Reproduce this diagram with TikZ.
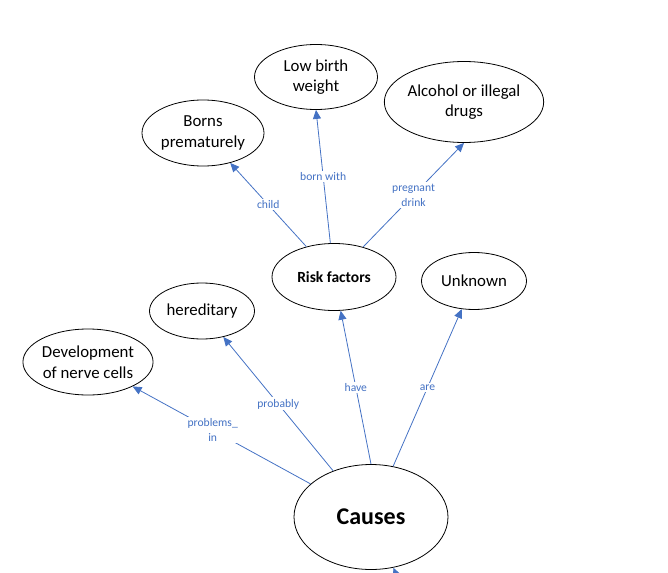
\documentclass[tikz,border=0pt]{standalone}
\usepackage{fontspec}
\setmainfont{Carlito}
\usetikzlibrary{shapes.geometric,arrows.meta}
\definecolor{linkblue}{HTML}{4472C4}

\begin{document}
\begin{tikzpicture}[x=1pt, y=-1pt,
    concept/.style={ellipse, draw=black, line width=0.8pt, inner sep=0pt, align=center,
                    font=\fontsize{16.8}{20.5}\selectfont},
    link/.style={draw=linkblue, line width=0.8pt, -{Triangle[length=9pt, width=8pt]}},
    linklabel/.style={fill=white, inner sep=1.5pt, align=center, text=linkblue,
                      font=\fontsize{11.6}{15}\selectfont}]
    \useasboundingbox (0,0) rectangle (668,572);
    \clip (0,0) rectangle (668,572);

    % Concepts
    \node[concept, minimum width=154, minimum height=105, font=\fontsize{24}{27}\selectfont\bfseries]
          (causes) at (371,517) {Causes};
    \node[concept, minimum width=124, minimum height=67, font=\fontsize{15.5}{18}\selectfont\bfseries]
          (risk) at (334,277) {Risk factors};
    \node[concept, minimum width=105, minimum height=57] (unknown) at (474,281) {Unknown};
    \node[concept, minimum width=105, minimum height=56] (hered) at (202,311) {hereditary};
    \node[concept, minimum width=123, minimum height=66] (nerve) at (88,362) {Development\\of nerve cells};
    \node[concept, minimum width=122, minimum height=66] (borns) at (203,133) {Borns\\prematurely};
    \node[concept, minimum width=123, minimum height=65] (lowbirth) at (316,77) {Low birth\\weight};
    \node[concept, minimum width=152, minimum height=81] (alcohol) at (464,102) {Alcohol or illegal\\drugs};
    \coordinate (offpage) at (415,617);

    % Links from Causes
    \draw[link] (causes) -- node[linklabel, pos=0.55] {problems\_\\in} (nerve);
    \draw[link] (causes) -- node[linklabel] {probably} (hered);
    \draw[link] (causes.north) -- node[linklabel] {have} (risk);
    \draw[link] (causes) -- node[linklabel] {are} (unknown);

    % Links from Risk factors
    \draw[link] (risk) -- node[linklabel] {child} (borns);
    \draw[link] (risk) -- node[linklabel] {born with} (lowbirth.south);
    \draw[link] (risk) -- node[linklabel] {pregnant\\drink} (alcohol.south);

    % Incoming link, cut by the page
    \draw[link] (offpage) -- (causes);

\end{tikzpicture}
\end{document}
